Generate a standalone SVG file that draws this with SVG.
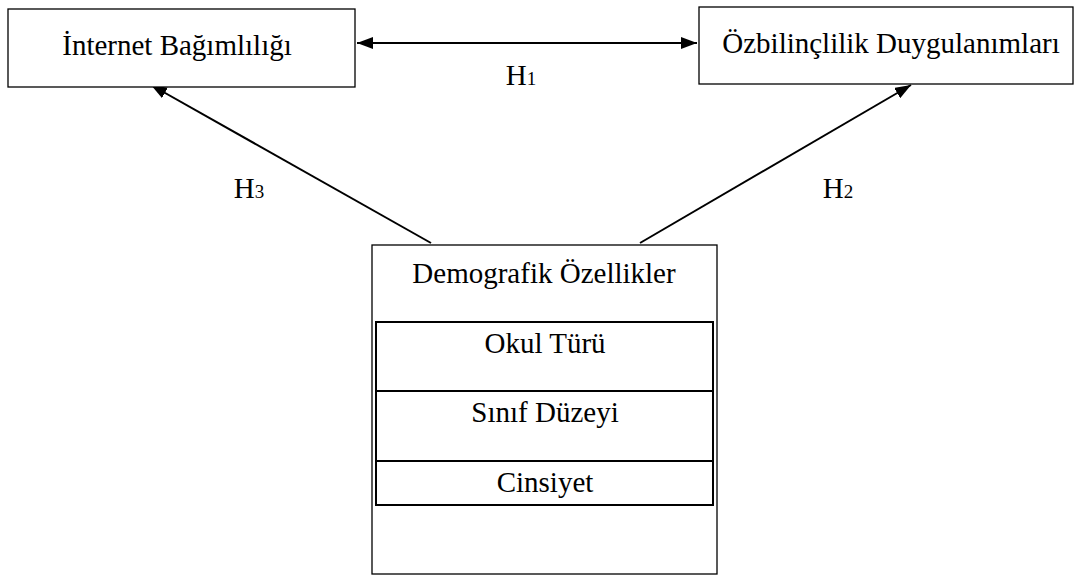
<svg xmlns="http://www.w3.org/2000/svg" width="1076" height="575" viewBox="0 0 1076 575">
<style>
.box{fill:#fff;stroke:#000;stroke-width:1.3}
.inner{fill:none;stroke:#000;stroke-width:2}
.t{font-family:"Liberation Serif","Times New Roman",serif;font-size:29px;fill:#000;text-anchor:middle}
.s{font-size:19px}
.c{stroke:#000;stroke-width:2;fill:none}
</style>
<defs>
<marker id="ah" viewBox="0 0 16 12" refX="16" refY="6" markerWidth="16" markerHeight="12" markerUnits="userSpaceOnUse" orient="auto-start-reverse">
<path d="M0,0 L16,6 L0,12 Z" fill="#000"/>
</marker>
</defs>
<g id="connectors">
<line class="c" x1="357" y1="43" x2="697" y2="43" marker-start="url(#ah)" marker-end="url(#ah)"/>
<line class="c" x1="431" y1="243" x2="151" y2="85" marker-end="url(#ah)"/>
<line class="c" x1="640" y1="243" x2="911" y2="85" marker-end="url(#ah)"/>
<text class="t" x="521" y="85">H<tspan class="s">1</tspan></text>
<text class="t" x="249" y="198">H<tspan class="s">3</tspan></text>
<text class="t" x="838" y="198">H<tspan class="s">2</tspan></text>
</g>
<g id="internet">
<rect class="box" x="8" y="9" width="347" height="78"/>
<text class="t" x="177" y="55">İnternet Bağımlılığı</text>
</g>
<g id="ozbilinclilik">
<rect class="box" x="699" y="7" width="374" height="77"/>
<text class="t" x="891" y="53">Özbilinçlilik Duygulanımları</text>
</g>
<g id="demografik">
<rect class="box" x="372" y="245" width="345" height="329"/>
<text class="t" x="544" y="283">Demografik Özellikler</text>
<rect class="inner" x="376" y="322" width="337" height="183"/>
<line class="inner" x1="376" y1="391" x2="713" y2="391"/>
<line class="inner" x1="376" y1="461" x2="713" y2="461"/>
<text class="t" x="545" y="353">Okul Türü</text>
<text class="t" x="545" y="422">Sınıf Düzeyi</text>
<text class="t" x="545" y="492">Cinsiyet</text>
</g>
</svg>
